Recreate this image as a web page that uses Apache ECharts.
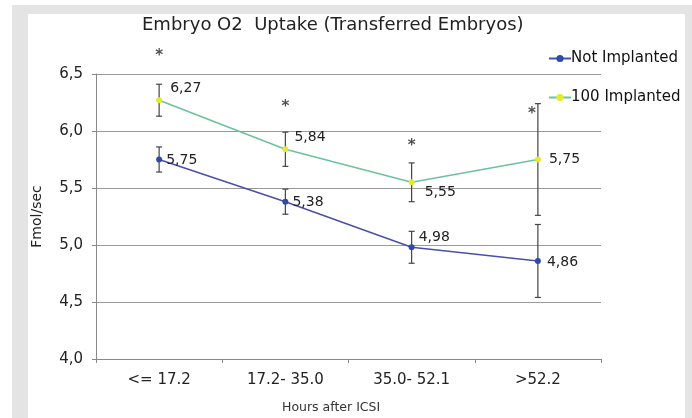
<!DOCTYPE html>
<html><head><meta charset="utf-8">
<script src="https://cdn.jsdelivr.net/npm/echarts@6/dist/echarts.min.js"></script>
<style>html,body{margin:0;padding:0;background:#fff}#c{width:692px;height:418px}</style>
</head><body><div id="c"></div>
<script>
const categories = ['<= 17.2', '17.2- 35.0', '35.0- 52.1', '>52.2'];
const notImplanted = [5.75, 5.38, 4.98, 4.86];
const notImplantedErr = [0.11, 0.11, 0.14, 0.32];
const implanted = [6.27, 5.84, 5.55, 5.75];
const implantedErr = [0.14, 0.15, 0.17, 0.49];
const starY = [6.66, 6.21, 5.87, 6.15];
const yTicks = [4.0, 4.5, 5.0, 5.5, 6.0, 6.5];

const fmt = v => v.toFixed(2).replace('.', ',');
const font = 'DejaVu Sans';

const niLabelPos = [{position:'right',offset:[0,1]},{position:'right',offset:[0,1]},{position:'right',offset:[0,-10]},{position:'right',offset:[2,1]}];
const imLabelPos = [{position:'right',offset:[4,-12]},{position:'right',offset:[2,-12]},{position:'right',offset:[6,10]},{position:'right',offset:[4,0]}];

function errSeries(vals, errs) {
  return {
    type: 'custom', z: 5,
    data: vals.map((v, i) => [i, v - errs[i], v + errs[i]]),
    renderItem: (params, api) => {
      const lo = api.coord([api.value(0), api.value(1)]);
      const hi = api.coord([api.value(0), api.value(2)]);
      const w = 3;
      const st = {stroke: '#444', lineWidth: 1.2};
      return {type: 'group', children: [
        {type:'line', shape:{x1:hi[0],y1:hi[1],x2:lo[0],y2:lo[1]}, style:st},
        {type:'line', shape:{x1:hi[0]-w,y1:hi[1],x2:hi[0]+w,y2:hi[1]}, style:st},
        {type:'line', shape:{x1:lo[0]-w,y1:lo[1],x2:lo[0]+w,y2:lo[1]}, style:st}
      ]};
    },
    silent: true
  };
}

const chart = echarts.init(document.getElementById('c'), null, {renderer: 'canvas'});
chart.setOption({
  animation: false,
  backgroundColor: '#fff',
  textStyle: {fontFamily: font},
  graphic: [
    {type:'rect', shape:{x:12,y:5,width:16,height:413}, style:{fill:'#e4e4e4'}, z:-10},
    {type:'rect', shape:{x:12,y:5,width:680,height:9}, style:{fill:'#e4e4e4'}, z:-10},
    {type:'rect', shape:{x:685,y:5,width:7,height:413}, style:{fill:'#e4e4e4'}, z:-10},
    {type:'text', left: 282, top: 401, style:{text:'Hours after ICSI', font:'12.5px "DejaVu Sans"', fill:'#333'}}
  ],
  title: {
    text: 'Embryo O2  Uptake (Transferred Embryos)',
    left: 137, top: 11,
    textStyle: {fontFamily: font, fontSize: 18, fontWeight: 'normal', color: '#222'}
  },
  legend: {
    orient: 'vertical', left: 543, top: 46, itemGap: 24, itemWidth: 22, itemHeight: 9,
    textStyle: {fontFamily: font, fontSize: 15, color: '#111', padding: [0,0,0,-5]},
    data: ['Not Implanted', '100 Implanted']
  },
  grid: {left: 96, right: 91, top: 74, bottom: 59},
  xAxis: {
    type: 'category', data: categories, boundaryGap: true,
    axisLine: {lineStyle: {color: '#888'}},
    axisTick: {show: true, length: 4, lineStyle: {color: '#888'}},
    axisLabel: {fontFamily: font, fontSize: 15, color: '#222', margin: 14}
  },
  yAxis: {
    type: 'value', min: 4, max: 6.5, interval: 0.5,
    name: 'Fmol/sec', nameLocation: 'middle', nameGap: 52, nameRotate: 90,
    nameTextStyle: {fontFamily: font, fontSize: 14, color: '#222'},
    axisLine: {show: true, lineStyle: {color: '#888'}},
    axisTick: {show: true, length: 4, inside: false, lineStyle: {color: '#888'}},
    axisLabel: {fontFamily: font, fontSize: 15, color: '#222', margin: 13,
      formatter: v => v.toFixed(1).replace('.', ',')},
    splitLine: {lineStyle: {color: '#999', width: 1}}
  },
  series: [
    errSeries(notImplanted, notImplantedErr),
    errSeries(implanted, implantedErr),
    {
      name: 'Not Implanted', type: 'line', z: 6,
      data: notImplanted.map((v, i) => ({value: v, label: niLabelPos[i]})),
      symbol: 'circle', symbolSize: 6,
      lineStyle: {color: '#4b4fa8', width: 1.5},
      itemStyle: {color: '#2f4aa8'},
      label: {show: true, formatter: p => fmt(p.value), fontFamily: font, fontSize: 14, color: '#222', distance: 4}
    },
    {
      name: '100 Implanted', type: 'line', z: 6,
      data: implanted.map((v, i) => ({value: v, label: imLabelPos[i]})),
      symbol: 'circle', symbolSize: 6,
      lineStyle: {color: '#6cc29e', width: 1.5},
      itemStyle: {color: '#e4ea2c'},
      label: {show: true, formatter: p => fmt(p.value), fontFamily: font, fontSize: 14, color: '#222', distance: 4}
    },
    {
      type: 'scatter', symbolSize: 1, z: 7, silent: true, clip: false,
      itemStyle: {color: 'rgba(0,0,0,0)'},
      data: starY.map((v, i) => ({value: [i, v], label: {offset: i === 3 ? [-6, 0] : [0, 0]}})),
      label: {show: true, position: 'inside', formatter: '*', fontFamily: font, fontSize: 15, fontWeight: 'bold', color: '#222'}
    }
  ]
});
</script>
</body></html>
